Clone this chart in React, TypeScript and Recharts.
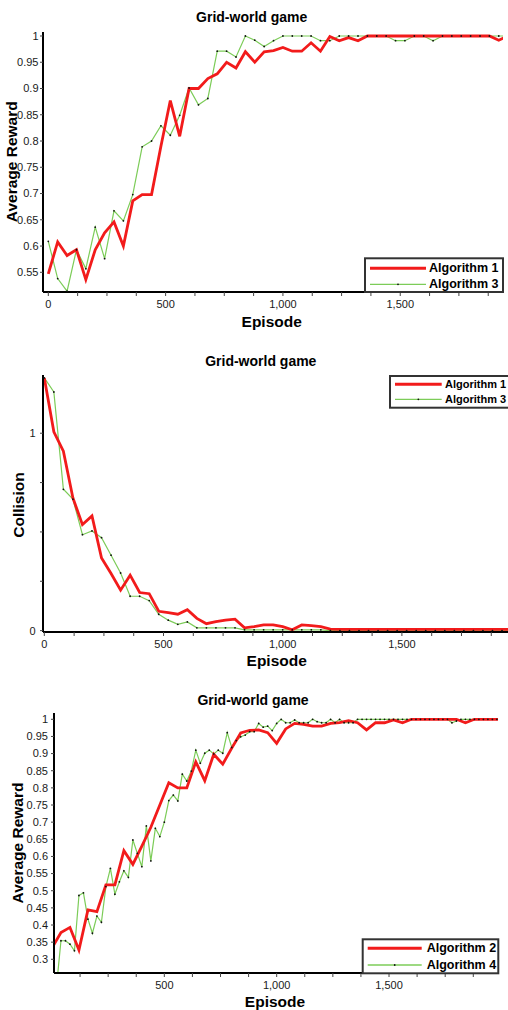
import React from 'react';
import { LineChart, Line, XAxis, YAxis } from 'recharts';

const FONT = "'Liberation Sans', Arial, sans-serif";
const RED = '#f21b1b';
const GREEN = '#7ccc58';

// ---------- shared episode axis (step 40) ----------
const episodes40 = [0, 40, 80, 120, 160, 200, 240, 280, 320, 360, 400, 440, 480, 520, 560, 600, 640, 680, 720, 760, 800, 840, 880, 920, 960, 1000, 1040, 1080, 1120, 1160, 1200, 1240, 1280, 1320, 1360, 1400, 1440, 1480, 1520, 1560, 1600, 1640, 1680, 1720, 1760, 1800, 1840, 1880, 1920, 1960];
const episodes40b = [0, 40, 80, 120, 160, 200, 240, 280, 320, 360, 400, 440, 480, 520, 560, 600, 640, 680, 720, 760, 800, 840, 880, 920, 960, 1000, 1040, 1080, 1120, 1160, 1200, 1240, 1280, 1320, 1360, 1400, 1440, 1480, 1520, 1560, 1600, 1640, 1680, 1720, 1760, 1800, 1840, 1880, 1920, 1960, 2000];
const episodes20 = [20, 40, 60, 80, 100, 120, 140, 160, 180, 200, 220, 240, 260, 280, 300, 320, 340, 360, 380, 400, 420, 440, 460, 480, 500, 520, 540, 560, 580, 600, 620, 640, 660, 680, 700, 720, 740, 760, 780, 800, 820, 840, 860, 880, 900, 920, 940, 960, 980, 1000, 1020, 1040, 1060, 1080, 1100, 1120, 1140, 1160, 1180, 1200, 1220, 1240, 1260, 1280, 1300, 1320, 1340, 1360, 1380, 1400, 1420, 1440, 1460, 1480, 1500, 1520, 1540, 1560, 1580, 1600, 1620, 1640, 1660, 1680, 1700, 1720, 1740, 1760, 1780, 1800, 1820, 1840, 1860, 1880, 1900, 1920, 1940, 1960, 1980];

const xTicks = [0, 125, 250, 375, 500, 625, 750, 875, 1000, 1125, 1250, 1375, 1500, 1625, 1750, 1875];
const xTicks3 = [125, 250, 375, 500, 625, 750, 875, 1000, 1125, 1250, 1375, 1500, 1625, 1750, 1875];

// ---------- chart 1: reward, Algorithm 1 vs 3 ----------
const reward1Alg1 = [0.547, 0.608, 0.582, 0.593, 0.536, 0.593, 0.625, 0.646, 0.600, 0.686, 0.698, 0.698, 0.790, 0.877, 0.809, 0.900, 0.900, 0.919, 0.928, 0.950, 0.939, 0.970, 0.950, 0.970, 0.972, 0.978, 0.971, 0.971, 0.987, 0.971, 0.999, 0.991, 0.997, 0.991, 1, 1, 1, 1, 1, 1, 1, 1, 1, 1, 1, 1, 1, 1, 0.992, 1];
const reward1Alg3 = [0.609, 0.538, 0.514, 0.593, 0.557, 0.636, 0.576, 0.667, 0.648, 0.698, 0.789, 0.800, 0.829, 0.811, 0.849, 0.901, 0.869, 0.881, 0.971, 0.971, 0.960, 1, 0.992, 0.980, 0.991, 1, 1, 1, 1, 0.991, 0.991, 1, 1, 1, 1, 1, 1, 0.991, 0.991, 1, 1, 0.991, 1, 1, 1, 1, 1, 1, 1, 1];
const yTicks1 = [0.55, 0.6, 0.65, 0.7, 0.75, 0.8, 0.85, 0.9, 0.95, 1];

// ---------- chart 2: collision, Algorithm 1 vs 3 ----------
const collisionAlg1 = [1.28, 1.007, 0.909, 0.672, 0.537, 0.581, 0.368, 0.289, 0.205, 0.281, 0.193, 0.187, 0.098, 0.091, 0.083, 0.106, 0.062, 0.035, 0.045, 0.053, 0.058, 0.014, 0.02, 0.029, 0.029, 0.02, 0.004, 0.029, 0.025, 0.02, 0.008, 0.006, 0.006, 0.006, 0.006, 0.006, 0.006, 0.006, 0.006, 0.006, 0.006, 0.006, 0.006, 0.006, 0.006, 0.006, 0.006, 0.006, 0.006, 0.006];
const collisionAlg3 = [1.28, 1.209, 0.716, 0.666, 0.486, 0.505, 0.471, 0.382, 0.292, 0.174, 0.174, 0.152, 0.083, 0.053, 0.032, 0.044, 0.014, 0.014, 0.014, 0.014, 0.014, 0.004, 0.004, 0.004, 0.004, 0.004, 0.004, 0.004, 0.004, 0.004, 0, 0, 0, 0, 0, 0, 0, 0, 0, 0, 0, 0, 0, 0, 0, 0, 0, 0, 0, 0];
const yTicks2 = [0, 0.25, 0.5, 0.75, 1];

// ---------- chart 3: reward, Algorithm 2 vs 4 ----------
const reward3Alg2 = [0.333, 0.378, 0.393, 0.327, 0.444, 0.439, 0.517, 0.517, 0.617, 0.577, 0.63, 0.685, 0.75, 0.815, 0.80, 0.80, 0.876, 0.821, 0.898, 0.869, 0.916, 0.96, 0.968, 0.969, 0.961, 0.93, 0.972, 0.988, 0.985, 0.98, 0.98, 0.988, 0.99, 0.996, 0.99, 0.969, 0.99, 0.99, 0.998, 0.99, 1, 1, 1, 1, 1, 1, 0.99, 1, 1, 1, 1];
const reward3Alg4 = [0.22,
  0.354, 0.354, 0.344, 0.325,
  0.486, 0.494, 0.417, 0.376, 0.426,
  0.408, 0.512, 0.565, 0.49, 0.526,
  0.558, 0.539, 0.648, 0.609, 0.57,
  0.689, 0.587, 0.682, 0.658, 0.70,
  0.763, 0.779, 0.762, 0.84, 0.82,
  0.849, 0.91, 0.872, 0.901, 0.91,
  0.899, 0.91, 0.901, 0.961, 0.918,
  0.938, 0.949, 0.954, 0.964, 0.964,
  0.988, 0.977, 0.98, 0.967, 0.988,
  1, 0.99, 0.99, 0.998, 0.99,
  0.99, 0.99, 1, 0.993, 0.99,
  0.99, 1, 0.99, 1, 0.99,
  0.99, 0.99, 1, 1, 1,
  1, 1, 1, 1, 1,
  1, 1, 1, 1, 1,
  1, 1, 1, 1, 1,
  1, 1, 1, 0.99, 0.995,
  1, 1, 1, 1, 1,
  1, 1, 1, 1];
const yTicks3 = [0.3, 0.35, 0.4, 0.45, 0.5, 0.55, 0.6, 0.65, 0.7, 0.75, 0.8, 0.85, 0.9, 0.95, 1];

const toRows = (xs: number[], ys: number[]) => xs.map((x, i) => ({ x, y: ys[i] }));

const fmtX = (v: number) => (v % 500 === 0 ? v.toLocaleString('en-US') : '');
const fmtY = (v: number) => String(v);
const fmtY2 = (v: number) => (v === 0 || v === 1 ? String(v) : '');

const tickStyle = { fontSize: 11, fill: '#1a1a1a', fontFamily: FONT };
const greenDot = { r: 0.9, fill: '#111', stroke: '#111', strokeWidth: 0 };

type PanelProps = {
  top: number;
  width: number;
  height: number;
  margin: { top: number; right: number; bottom: number; left: number };
  yWidth: number;
  xHeight: number;
  xDomain: [number, number];
  yDomain: [number, number];
  xTickList: number[];
  yTickList: number[];
  yFmt: (v: number) => string;
  yTickMargin: number;
  redRows: { x: number; y: number }[];
  greenRows: { x: number; y: number }[];
  redName: string;
  greenName: string;
};

function Panel(p: PanelProps) {
  return (
    <div style={{ position: 'absolute', left: 0, top: p.top }}>
      <LineChart width={p.width} height={p.height} margin={p.margin}>
        <XAxis
          xAxisId={0}
          type="number"
          dataKey="x"
          domain={p.xDomain}
          allowDataOverflow
          ticks={p.xTickList}
          tickFormatter={fmtX}
          interval={0}
          height={p.xHeight}
          tick={tickStyle}
          tickSize={4}
          tickMargin={4}
          axisLine={{ stroke: '#000', strokeWidth: 2 }}
          tickLine={{ stroke: '#444' }}
        />
        <XAxis
          xAxisId="top"
          orientation="top"
          type="number"
          dataKey="x"
          domain={p.xDomain}
          allowDataOverflow
          height={0}
          tick={false}
          tickLine={false}
          axisLine={{ stroke: '#111', strokeWidth: 1.5 }}
        />
        <YAxis
          yAxisId={0}
          type="number"
          domain={p.yDomain}
          allowDataOverflow
          ticks={p.yTickList}
          tickFormatter={p.yFmt}
          interval={0}
          width={p.yWidth}
          tick={tickStyle}
          tickSize={3}
          tickMargin={p.yTickMargin}
          axisLine={{ stroke: '#000', strokeWidth: 2 }}
          tickLine={{ stroke: '#444' }}
        />
        <YAxis
          yAxisId="right"
          orientation="right"
          type="number"
          domain={p.yDomain}
          allowDataOverflow
          width={0}
          tick={false}
          tickLine={false}
          axisLine={{ stroke: '#666', strokeWidth: 2 }}
        />
        <Line
          xAxisId={0}
          yAxisId={0}
          data={p.greenRows}
          dataKey="y"
          name={p.greenName}
          type="linear"
          stroke={GREEN}
          strokeWidth={1.2}
          dot={greenDot}
          isAnimationActive={false}
        />
        <Line
          xAxisId={0}
          yAxisId={0}
          data={p.redRows}
          dataKey="y"
          name={p.redName}
          type="linear"
          stroke={RED}
          strokeWidth={2.8}
          dot={false}
          isAnimationActive={false}
        />
      </LineChart>
    </div>
  );
}

type LegendProps = { x: number; y: number; w: number; h: number; lineX1: number; lineX2: number; textX: number; row1: number; row2: number; name1: string; name2: string; fs: number };

function LegendBox(l: LegendProps) {
  const dotX = (l.lineX1 + l.lineX2) / 2;
  return (
    <g>
      <rect x={l.x} y={l.y} width={l.w} height={l.h} fill="#fff" stroke="#333" strokeWidth={2} />
      <line x1={l.lineX1} x2={l.lineX2} y1={l.row1} y2={l.row1} stroke={RED} strokeWidth={3} />
      <text x={l.textX} y={l.row1} dominantBaseline="central" fontFamily={FONT} fontWeight="bold" fontSize={l.fs} fill="#000">{l.name1}</text>
      <line x1={l.lineX1} x2={l.lineX2} y1={l.row2} y2={l.row2} stroke={GREEN} strokeWidth={1.3} />
      <circle cx={dotX} cy={l.row2} r={0.9} fill="#111" />
      <text x={l.textX} y={l.row2} dominantBaseline="central" fontFamily={FONT} fontWeight="bold" fontSize={l.fs} fill="#000">{l.name2}</text>
    </g>
  );
}

const titleStyle = { fontFamily: FONT, fontWeight: 'bold' as const, fontSize: 14, fill: '#000' };
const labelStyle = { fontFamily: FONT, fontWeight: 'bold' as const, fontSize: 15.5, fill: '#000' };

export default function App() {
  return (
    <div style={{ position: 'absolute', left: 0, top: 0, width: 508, height: 1010, overflow: 'hidden', background: '#fff' }}>
      <Panel
        top={0}
        width={508}
        height={330}
        margin={{ top: 32, right: 5, bottom: 0, left: 0 }}
        yWidth={43}
        xHeight={38}
        xDomain={[-22.6, 1938]}
        yDomain={[0.5125, 1.0076]}
        xTickList={xTicks}
        yTickList={yTicks1}
        yFmt={fmtY}
        yTickMargin={1.5}
        redRows={toRows(episodes40, reward1Alg1)}
        greenRows={toRows(episodes40, reward1Alg3)}
        redName="Algorithm 1"
        greenName="Algorithm 3"
      />
      <Panel
        top={340}
        width={540}
        height={330}
        margin={{ top: 35, right: 12, bottom: 0, left: 0 }}
        yWidth={43}
        xHeight={38}
        xDomain={[-5.5, 2029]}
        yDomain={[-0.007, 1.295]}
        xTickList={xTicks}
        yTickList={yTicks2}
        yFmt={fmtY2}
        yTickMargin={4.5}
        redRows={toRows(episodes40, collisionAlg1)}
        greenRows={toRows(episodes40, collisionAlg3)}
        redName="Algorithm 1"
        greenName="Algorithm 3"
      />
      <Panel
        top={680}
        width={508}
        height={330}
        margin={{ top: 33, right: 10, bottom: 0, left: 0 }}
        yWidth={54}
        xHeight={37}
        xDomain={[9, 1985]}
        yDomain={[0.26, 1.0184]}
        xTickList={xTicks3}
        yTickList={yTicks3}
        yFmt={fmtY}
        yTickMargin={3}
        redRows={toRows(episodes40b, reward3Alg2)}
        greenRows={toRows(episodes20, reward3Alg4)}
        redName="Algorithm 2"
        greenName="Algorithm 4"
      />
      <svg width={508} height={1010} style={{ position: 'absolute', left: 0, top: 0, pointerEvents: 'none' }}>
        <text x={251.7} y={16.7} textAnchor="middle" dominantBaseline="central" {...titleStyle}>Grid-world game</text>
        <text x={271.7} y={321.7} textAnchor="middle" dominantBaseline="central" {...labelStyle}>Episode</text>
        <text x={0} y={0} transform="translate(11.5,161.7) rotate(-90)" textAnchor="middle" dominantBaseline="central" {...labelStyle}>Average Reward</text>
        <LegendBox x={365} y={258.3} w={138} h={33.7} lineX1={370} lineX2={426} textX={429} row1={268.3} row2={284.3} name1="Algorithm 1" name2="Algorithm 3" fs={12.5} />

        <text x={260.8} y={360.7} textAnchor="middle" dominantBaseline="central" {...titleStyle}>Grid-world game</text>
        <text x={276.7} y={660.7} textAnchor="middle" dominantBaseline="central" {...labelStyle}>Episode</text>
        <text x={0} y={0} transform="translate(18.5,505) rotate(-90)" textAnchor="middle" dominantBaseline="central" {...labelStyle}>Collision</text>
        <LegendBox x={390} y={376} w={138} h={31.7} lineX1={395} lineX2={441.7} textX={445} row1={384.3} row2={399.3} name1="Algorithm 1" name2="Algorithm 3" fs={11} />

        <text x={253} y={700} textAnchor="middle" dominantBaseline="central" {...titleStyle}>Grid-world game</text>
        <text x={275} y={1001.7} textAnchor="middle" dominantBaseline="central" {...labelStyle}>Episode</text>
        <text x={0} y={0} transform="translate(17.5,843) rotate(-90)" textAnchor="middle" dominantBaseline="central" {...labelStyle}>Average Reward</text>
        <LegendBox x={362.7} y={939.3} w={135.6} h={34} lineX1={367.7} lineX2={421.7} textX={426.7} row1={948.3} row2={965} name1="Algorithm 2" name2="Algorithm 4" fs={12.5} />
      </svg>
    </div>
  );
}
